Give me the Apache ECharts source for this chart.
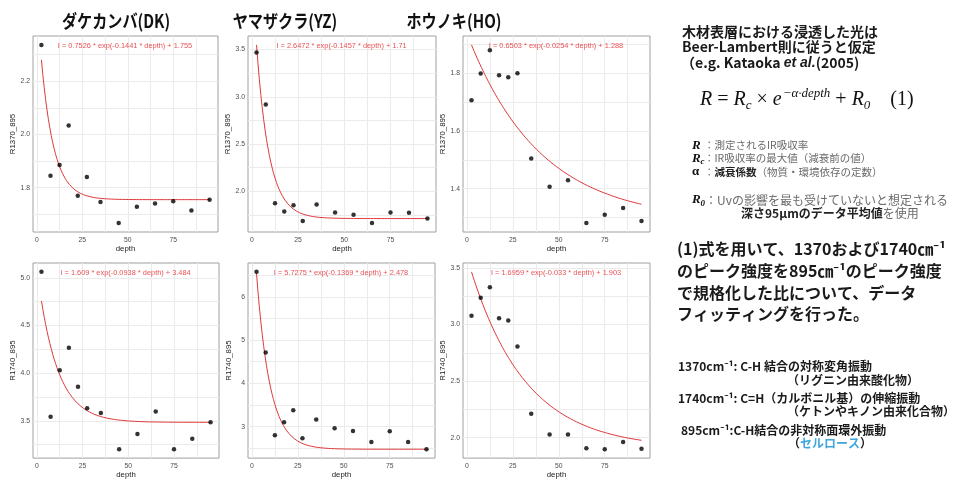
<!DOCTYPE html>
<html>
<head>
<meta charset="utf-8">
<script src="https://cdn.jsdelivr.net/npm/echarts@6/dist/echarts.min.js"></script>
<style>
  html, body { margin: 0; padding: 0; background: #ffffff; }
  #chart { width: 956px; height: 480px; }
</style>
</head>
<body>
<div id="chart"></div>
<script>
// Sampling depths (µm)
const depth = [2.5, 7.5, 12.5, 17.5, 22.5, 27.5, 35, 45, 55, 65, 75, 85, 95];

// Band ratios normalised by the 895 cm-1 peak
const dk1370 = [2.336, 1.845, 1.885, 2.033, 1.770, 1.840, 1.746, 1.667, 1.728, 1.741, 1.749, 1.714, 1.755];
const yz1370 = [3.468, 2.917, 1.873, 1.785, 1.852, 1.683, 1.859, 1.775, 1.750, 1.662, 1.775, 1.771, 1.710];
const ho1370 = [1.707, 1.799, 1.880, 1.793, 1.786, 1.800, 1.505, 1.407, 1.429, 1.281, 1.310, 1.333, 1.288];
const dk1740 = [5.062, 3.542, 4.031, 4.267, 3.857, 3.632, 3.583, 3.202, 3.361, 3.597, 3.202, 3.313, 3.484];
const yz1740 = [6.577, 4.711, 2.803, 3.099, 3.380, 2.734, 3.167, 2.962, 2.901, 2.643, 2.894, 2.643, 2.478];
const ho1740 = [3.076, 3.236, 3.329, 3.055, 3.035, 2.805, 2.212, 2.029, 2.029, 1.907, 1.898, 1.962, 1.903];

// Fitted Beer-Lambert parameters [Rc, alpha, R0]
const fitDK1370 = [0.7526, 0.1441, 1.755];
const fitYZ1370 = [2.6472, 0.1457, 1.71];
const fitHO1370 = [0.6503, 0.0254, 1.288];
const fitDK1740 = [1.609, 0.0938, 3.484];
const fitYZ1740 = [5.7275, 0.1369, 2.478];
const fitHO1740 = [1.6959, 0.033, 1.903];

// Tick labels
const xTicks = [0, 25, 50, 75];
const ticksDK1370 = [1.8, 2.0, 2.2];
const ticksYZ1370 = [2.0, 2.5, 3.0, 3.5];
const ticksHO1370 = [1.4, 1.6, 1.8];
const ticksDK1740 = [3.5, 4.0, 4.5, 5.0];
const ticksYZ1740 = [3, 4, 5, 6];
const ticksHO1740 = [2.0, 2.5, 3.0, 3.5];

const speciesTitles = ['ダケカンバ(DK)', 'ヤマザクラ(YZ)', 'ホウノキ(HO)'];

const FONT = '"Liberation Sans", Arial, sans-serif';
const JP = '"Noto Sans CJK JP", "Noto Sans", sans-serif';
const SERIF = '"Liberation Serif", "DejaVu Serif", serif';

const panels = [
  { yName: 'R1370_895', values: dk1370, fit: fitDK1370, ticks: ticksDK1370, dec: 1 },
  { yName: 'R1370_895', values: yz1370, fit: fitYZ1370, ticks: ticksYZ1370, dec: 1 },
  { yName: 'R1370_895', values: ho1370, fit: fitHO1370, ticks: ticksHO1370, dec: 1 },
  { yName: 'R1740_895', values: dk1740, fit: fitDK1740, ticks: ticksDK1740, dec: 1 },
  { yName: 'R1740_895', values: yz1740, fit: fitYZ1740, ticks: ticksYZ1740, dec: 0 },
  { yName: 'R1740_895', values: ho1740, fit: fitHO1740, ticks: ticksHO1740, dec: 1 }
];

// Plot boxes [left, top, width, height]
const boxes = [
  [33, 36, 185, 196], [248, 36, 188, 196], [463, 36, 187, 196],
  [33, 263, 186, 196], [248, 263, 187, 196], [463, 263, 187, 196]
];

// Fitted curve R = Rc * exp(-alpha * depth) + R0 over the measured depth span
function fitCurve(fit) {
  const d0 = Math.min(...depth), d1 = Math.max(...depth), n = 120, pts = [];
  for (let i = 0; i <= n; i++) {
    const d = d0 + (d1 - d0) * i / n;
    pts.push([d, fit[0] * Math.exp(-fit[1] * d) + fit[2]]);
  }
  return pts;
}

// Major + minor grid positions inside [lo, hi]
function gridValues(ticks, lo, hi) {
  const step = ticks[1] - ticks[0], out = [];
  for (let v = ticks[0] - step; v <= ticks[ticks.length - 1] + step + 1e-9; v += step / 2) {
    if (v >= lo && v <= hi) out.push(+v.toFixed(5));
  }
  return out;
}

const grid = [], xAxis = [], yAxis = [], series = [];
const tickLabel = { color: '#4d4d4d', fontSize: 6.8, fontFamily: FONT };
const nameStyle = { color: '#1a1a1a', fontSize: 7.8, fontFamily: FONT };

panels.forEach((p, i) => {
  const [l, t, w, h] = boxes[i];
  grid.push({ left: l, top: t, width: w, height: h, show: true, borderColor: '#a0a0a0', borderWidth: 1 });

  const curve = fitCurve(p.fit);
  const ys = p.values.concat(curve.map(c => c[1]));
  const lo = Math.min(...ys), hi = Math.max(...ys), pad = (hi - lo) * 0.05;
  const yMin = lo - pad, yMax = hi + pad;
  const xLo = Math.min(...depth), xHi = Math.max(...depth), xPad = (xHi - xLo) * 0.05;
  const xMin = xLo - xPad, xMax = xHi + xPad;

  xAxis.push({
    type: 'value', gridIndex: i, min: xMin, max: xMax,
    name: 'depth', nameLocation: 'middle', nameGap: 12, nameTextStyle: nameStyle,
    axisLine: { show: false },
    axisTick: { show: false, customValues: gridValues(xTicks, xMin, xMax) },
    axisLabel: { customValues: xTicks, margin: 5, ...tickLabel },
    splitLine: { show: true, lineStyle: { color: '#ebebeb', width: 1 } }
  });
  yAxis.push({
    type: 'value', gridIndex: i, min: yMin, max: yMax,
    name: p.yName, nameLocation: 'middle', nameGap: 15, nameTextStyle: nameStyle,
    axisLine: { show: false },
    axisTick: { show: false, customValues: gridValues(p.ticks, yMin, yMax) },
    axisLabel: { customValues: p.ticks, margin: 3, ...tickLabel,
      formatter: v => Number(v).toFixed(p.dec) },
    splitLine: { show: true, lineStyle: { color: '#ebebeb', width: 1 } }
  });

  series.push({
    type: 'line', xAxisIndex: i, yAxisIndex: i, data: curve,
    showSymbol: false, smooth: false, silent: true, clip: true,
    lineStyle: { color: '#e0393c', width: 1 }, z: 2
  });
  series.push({
    type: 'scatter', xAxisIndex: i, yAxisIndex: i,
    data: depth.map((d, k) => [d, p.values[k]]),
    symbolSize: 4.5, itemStyle: { color: '#000' }, silent: true, z: 3
  });
  series.push({
    type: 'scatter', xAxisIndex: i, yAxisIndex: i, data: [[48.5, yMax]],
    symbolSize: 0, silent: true, clip: false, z: 4,
    label: {
      show: true, position: 'inside', offset: [0, 9.5],
      formatter: () => 'I = ' + p.fit[0] + ' * exp(-' + p.fit[1] + ' * depth) + ' + p.fit[2],
      color: '#e3242b', fontSize: 7.4, fontFamily: FONT
    }
  });
});

// Side notes and headings
const ink = '#1a1a1a';
function txt(x, y, text, opts) {
  return { type: 'text', x: x, y: y, silent: true,
    style: Object.assign({ text: text, fill: ink, fontFamily: JP, fontSize: 12,
      verticalAlign: 'middle', align: 'left' }, opts || {}) };
}

const graphic = [];
const titleX = [116, 285, 454];
speciesTitles.forEach((s, i) => {
  const g = txt(titleX[i], 21, s, { fontSize: 18, fontWeight: 'bold', align: 'center', fill: '#111' });
  g.scaleX = 0.84;
  graphic.push(g);
});

graphic.push(
  txt(682, 31.5, '木材表層における浸透した光は', { fontSize: 14, fontWeight: 'bold' }),
  txt(682, 47, 'Beer-Lambert則に従うと仮定', { fontSize: 14, fontWeight: 'bold' }),
  txt(681, 63, '（e.g. Kataoka {it|et al.}(2005)', { fontSize: 14, fontWeight: 'bold',
    rich: { it: { fontSize: 14, fontWeight: 'bold', fontStyle: 'italic', fontFamily: FONT, fill: ink } } }),
  txt(700, 100, '{i|R}{n| = }{i|R}{sb|c}{n| × }{i|e}{sp|−α·depth}{n| + }{i|R}{sb|0}{n|    (1)}', {
    fontFamily: SERIF, fontSize: 20,
    rich: {
      i: { fontFamily: SERIF, fontStyle: 'italic', fontSize: 20, lineHeight: 28, fill: '#111' },
      n: { fontFamily: SERIF, fontSize: 20, lineHeight: 28, fill: '#111' },
      sb: { fontFamily: SERIF, fontStyle: 'italic', fontSize: 13, lineHeight: 28, verticalAlign: 'bottom', padding: [0, 0, 2, 0], fill: '#111' },
      sp: { fontFamily: SERIF, fontStyle: 'italic', fontSize: 13, lineHeight: 28, verticalAlign: 'top', padding: [1, 0, 0, 1], fill: '#111' }
    }
  })
);

const sym = { fontFamily: SERIF, fontStyle: 'italic', fontWeight: 'bold', fontSize: 13, fill: '#111' };
const symSub = { fontFamily: SERIF, fontStyle: 'italic', fontWeight: 'bold', fontSize: 9, fill: '#111' };
const note = { fontSize: 10.5, fill: '#6a6a6a' };
graphic.push(
  txt(692, 145.5, 'R', sym),
  txt(704, 145.5, '：測定されるIR吸収率', note),
  txt(692, 158.5, 'R', sym),
  txt(700.5, 162, 'c', symSub),
  txt(704, 158.5, '：IR吸収率の最大値（減衰前の値）', note),
  txt(692, 172, 'α', { fontFamily: SERIF, fontWeight: 'bold', fontSize: 13, fill: '#111' }),
  txt(704, 172, '：{b|減衰係数}（物質・環境依存の定数）', Object.assign({}, note, {
    rich: { b: { fontSize: 10.5, fontWeight: 'bold', fill: '#222', fontFamily: JP } } })),
  txt(692, 200, 'R', sym),
  txt(700.5, 203.5, '0', symSub),
  txt(705, 200, '：Uvの影響を最も受けていないと想定される', { fontSize: 12, fill: '#6a6a6a' }),
  txt(741, 213.5, '{b|深さ95μmのデータ平均値}を使用', { fontSize: 12, fill: '#6a6a6a',
    rich: { b: { fontSize: 12, fontWeight: 'bold', fill: '#222', fontFamily: JP } } })
);

const lead = { fontSize: 16, fontWeight: 'bold' };
graphic.push(
  txt(677, 248.5, '(1)式を用いて、1370および1740㎝⁻¹', lead),
  txt(677, 271, 'のピーク強度を895㎝⁻¹のピーク強度', lead),
  txt(677, 292.5, 'で規格化した比について、データ', lead),
  txt(677, 313.5, 'フィッティングを行った。', lead)
);

const band = { fontSize: 12, fontWeight: 'bold' };
graphic.push(
  txt(678, 366.5, '1370cm⁻¹: C-H 結合の対称変角振動', band),
  txt(787, 380, '（リグニン由来酸化物）', band),
  txt(678, 398.5, '1740cm⁻¹: C=H（カルボニル基）の伸縮振動', band),
  txt(787, 411.5, '（ケトンやキノン由来化合物）', band),
  txt(681, 430, '895cm⁻¹:C-H結合の非対称面環外振動', band),
  txt(788, 443.5, '（{c|セルロース}）', Object.assign({}, band, {
    rich: { c: { fontSize: 12, fontWeight: 'bold', fill: '#3fa7dc', fontFamily: JP } } }))
);

const chart = echarts.init(document.getElementById('chart'), null, { renderer: 'canvas' });
chart.setOption({
  animation: false,
  backgroundColor: '#ffffff',
  textStyle: { fontFamily: FONT },
  grid: grid,
  xAxis: xAxis,
  yAxis: yAxis,
  series: series,
  graphic: graphic
});
</script>
</body>
</html>
